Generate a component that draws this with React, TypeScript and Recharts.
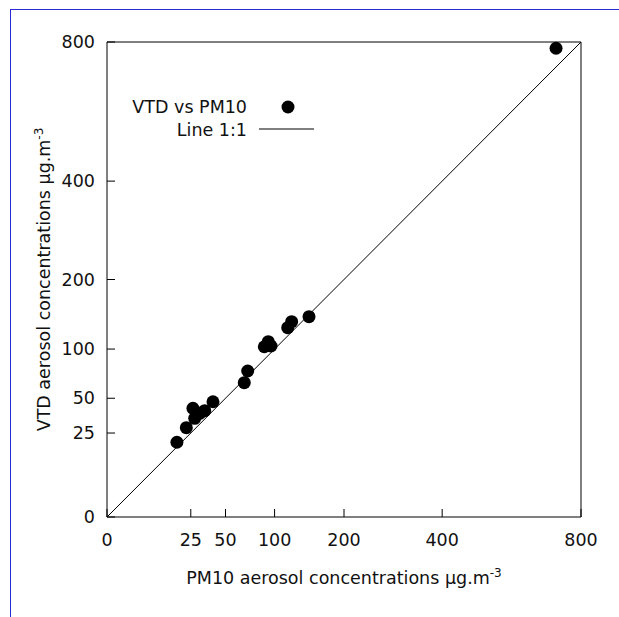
import React from 'react'
import {
  Legend,
  Scatter,
  ScatterChart,
  XAxis,
  YAxis,
} from 'recharts'

// PM10 (x) vs VTD (y), µg.m-3
const pm10 = [17.4, 22.4, 26.3, 27.4, 30.6, 34.0, 40.0, 67.1, 70.5, 88.1, 92.6, 95.8, 116.3, 121.4, 145.3, 718]
const vtd = [19.8, 28.3, 41.9, 34.5, 38.1, 40.1, 47.1, 64.0, 75.6, 102.8, 109.0, 103.7, 127.1, 135.3, 142.3, 779]

const ticks = [0, 25, 50, 100, 200, 400, 800]
const oneToOne = [0, 800]

const points = pm10.map((x, i) => ({ x, y: vtd[i] }))
const lineData = oneToOne.map((v) => ({ x: v, y: v }))

const FONT = 'DejaVu Sans'
const FS = 17.5
const TICK = 8

const BottomTick = ({ x, y, payload }: any) => (
  <g>
    <line x1={x} x2={x} y1={y} y2={y - TICK} stroke="#000" />
    <text x={x} y={y + 29} textAnchor="middle" fontFamily={FONT} fontSize={FS} fill="#111">
      {payload.value}
    </text>
  </g>
)

const TopTick = ({ x, y }: any) => <line x1={x} x2={x} y1={y} y2={y + TICK} stroke="#000" />

const LeftTick = ({ x, y, payload }: any) => (
  <g>
    <line x1={x} x2={x + TICK} y1={y} y2={y} stroke="#000" />
    <text x={x - 12} y={y + 6} textAnchor="end" fontFamily={FONT} fontSize={FS} fill="#111">
      {payload.value}
    </text>
  </g>
)

const RightTick = ({ x, y }: any) => <line x1={x} x2={x - TICK} y1={y} y2={y} stroke="#000" />

const XTitle = ({ viewBox }: any) => (
  <text
    x={viewBox.x + viewBox.width / 2}
    y={viewBox.y + 67}
    textAnchor="middle"
    fontFamily={FONT}
    fontSize={FS}
    fill="#111"
  >
    PM10 aerosol concentrations µg.m
    <tspan dy={-7} fontSize={12}>-3</tspan>
  </text>
)

const YTitle = ({ viewBox }: any) => {
  const cx = 50
  const cy = viewBox.y + viewBox.height / 2
  return (
    <text
      x={cx}
      y={cy}
      transform={`rotate(-90 ${cx} ${cy})`}
      textAnchor="middle"
      fontFamily={FONT}
      fontSize={FS}
      fill="#111"
    >
      VTD aerosol concentrations µg.m
      <tspan dy={-7} fontSize={12}>-3</tspan>
    </text>
  )
}

const KeyBox = ({ payload }: any) => {
  // points entry first, then the 1:1 line
  const items = [...(payload || [])].sort(
    (a: any, b: any) => (a.type === 'line' ? 1 : 0) - (b.type === 'line' ? 1 : 0),
  )
  return (
    <svg width={340} height={56} style={{ display: 'block', overflow: 'visible' }}>
      {items.map((it: any, i: number) => {
        const ty = 23 + i * 23
        return (
          <g key={it.value}>
            <text x={247} y={ty} textAnchor="end" fontFamily={FONT} fontSize={FS} fill="#111">
              {it.value}
            </text>
            {it.type === 'line' ? (
              <line x1={259} x2={314} y1={ty - 7} y2={ty - 7} stroke="#000" />
            ) : (
              <circle cx={288} cy={ty - 6} r={6.5} fill="#000" />
            )}
          </g>
        )
      })}
    </svg>
  )
}

export default function App() {
  return (
    <div style={{ position: 'absolute', left: 0, top: 0, width: 619, height: 617, background: '#fff' }}>
      <div
        style={{
          position: 'absolute',
          left: 10,
          top: 9,
          width: 609,
          height: 608,
          borderTop: '1px solid #2a2ad8',
          borderLeft: '1px solid #2a2ad8',
        }}
      />
      <ScatterChart
        width={619}
        height={617}
        margin={{ top: 41, right: 37, bottom: 40, left: 47 }}
        style={{ position: 'absolute', left: 0, top: 0 }}
      >
        <XAxis
          xAxisId="b"
          type="number"
          dataKey="x"
          scale="sqrt"
          domain={[0, 800]}
          ticks={ticks}
          interval={0}
          height={60}
          tickSize={0}
          tickMargin={0}
          tickLine={false}
          axisLine={{ stroke: '#000' }}
          tick={<BottomTick />}
          label={<XTitle />}
        />
        <XAxis
          xAxisId="t"
          orientation="top"
          type="number"
          dataKey="x"
          scale="sqrt"
          domain={[0, 800]}
          ticks={ticks.slice(1, -1)}
          interval={0}
          height={1}
          tickSize={0}
          tickMargin={0}
          tickLine={false}
          axisLine={{ stroke: '#000' }}
          tick={<TopTick />}
        />
        <YAxis
          yAxisId="l"
          type="number"
          dataKey="y"
          scale="sqrt"
          domain={[0, 800]}
          ticks={ticks}
          interval={0}
          width={60}
          tickSize={0}
          tickMargin={0}
          tickLine={false}
          axisLine={{ stroke: '#000' }}
          tick={<LeftTick />}
          label={<YTitle />}
        />
        <YAxis
          yAxisId="r"
          orientation="right"
          type="number"
          dataKey="y"
          scale="sqrt"
          domain={[0, 800]}
          ticks={ticks.slice(1, -1)}
          interval={0}
          width={1}
          tickSize={0}
          tickMargin={0}
          tickLine={false}
          axisLine={{ stroke: '#000' }}
          tick={<RightTick />}
        />
        <Legend
          layout="vertical"
          align="center"
          verticalAlign="middle"
          content={<KeyBox />}
          wrapperStyle={{ left: 0, top: 90, width: 340 }}
        />
        <Scatter
          name="VTD vs PM10"
          data={points}
          xAxisId="b"
          yAxisId="l"
          legendType="circle"
          fill="#000"
          isAnimationActive={false}
          shape={(p: any) => <circle cx={p.cx} cy={p.cy} r={6.5} fill="#000" />}
        />
        <Scatter
          name="Line 1:1"
          data={lineData}
          xAxisId="b"
          yAxisId="l"
          legendType="line"
          line={{ stroke: '#000', strokeWidth: 1 }}
          isAnimationActive={false}
          shape={() => <g />}
        />
      </ScatterChart>
    </div>
  )
}
